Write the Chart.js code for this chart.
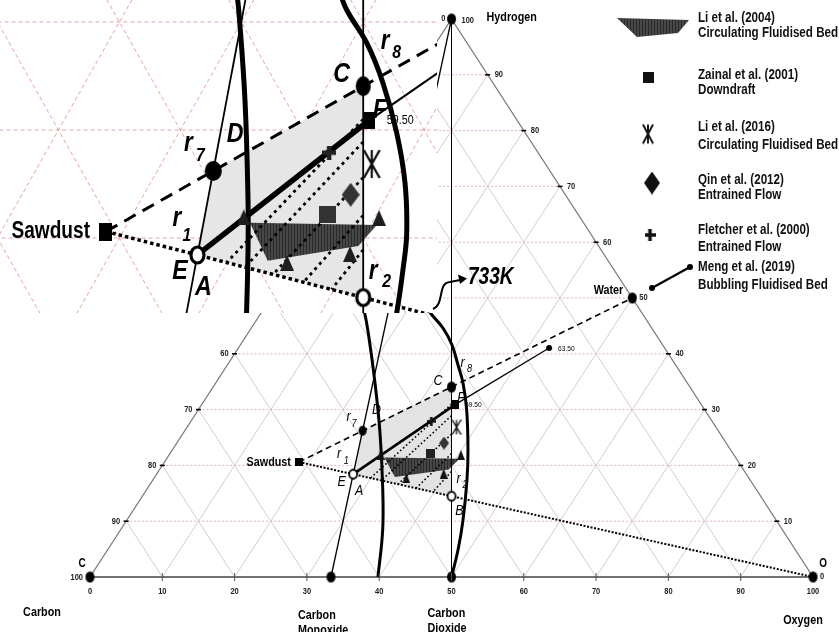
<!DOCTYPE html>
<html>
<head>
<meta charset="utf-8">
<script src="https://cdn.jsdelivr.net/npm/chart.js@4/dist/chart.umd.min.js"></script>
<style>
  html, body { margin: 0; padding: 0; background: #fff; overflow: hidden; }
  #wrap { position: relative; width: 839px; height: 632px; }
  #main, #zoom { position: absolute; left: 0; top: 0; }
</style>
</head>
<body>
<div id="wrap">
  <canvas id="main" width="839" height="632"></canvas>
  <canvas id="zoom" width="839" height="632"></canvas>
</div>
<script>
// Ternary plane: x = O + H/2, y = H  (C at 0,0 · O at 100,0 · H at 50,100)
const tickValues = [0, 10, 20, 30, 40, 50, 60, 70, 80, 90, 100];
const vertexC = [0, 0];
const vertexO = [100, 0];
const vertexH = [50, 100];
const carbonMonoxide = [33.33, 0];
const carbonDioxide = [50, 0];
const water = [75, 50];

const sawdust = [28.9, 20.6];
const pointE = [36.4, 18.43];
const pointR7 = [37.7, 26.21];
const pointC = [50, 34.06];
const pointF = [50.5, 30.9];
const pointR2 = [50, 14.49];
const mengEnd = [63.5, 41.04];
const fLabelValue = 59.5;

// carbon-boundary curves (overview)
const boundaryLeft = [[39.83, 0], [40.48, 8.42], [40.48, 16.18], [40.11, 25.81], [39.42, 34.77], [38.49, 43.73], [37.9, 47.85], [37.3, 50.5]];
const boundaryRight = [[50, 0], [50.9, 4.84], [51.59, 10.2], [52.14, 17.38], [52.28, 22.76], [52.1, 29.93], [51.59, 34.77], [50.9, 37.99], [50.07, 41.58], [48.82, 44.62], [47.3, 46.95], [46.3, 48.7]];
// carbon-boundary curves (enlarged view)
const boundaryLeftZoom = [[39.6, 43.0], [39.81, 40.83], [40.3, 32.78], [40.55, 23.52], [40.55, 18.89], [40.43, 13.06], [40.35, 12.0]];
const boundaryRightZoom = [[48.0, 43.0], [48.65, 41.11], [50.29, 38.06], [51.62, 34.35], [52.75, 29.72], [53.43, 25.09], [53.57, 20.46], [53.29, 17.31], [52.75, 13.06], [52.5, 12.0]];

// dotted operating lines inside the shaded band
const hatchTop = [[50, 31.0], [50, 28.9], [50, 25.6], [50, 22.1], [50, 18.9]];
const hatchBottom = [[38.8, 17.73], [40.3, 17.30], [42.6, 16.63], [45.1, 15.91], [47.4, 15.24]];

// literature data
const li2004Region = [[40.71, 21.42], [51.11, 21.2], [49.6, 19.26], [42.17, 17.9]];
const li2004Points = [[40.2, 21.9], [51.3, 21.85], [43.75, 17.69], [48.92, 18.52]];
const zainal2001 = [[47.1, 22.2]];
const li2016 = [[50.7, 26.85]];
const qin2012 = [[48.97, 24.0]];
const fletcher2000 = [[47.2, 27.9]];

const legendTitles = ['Li et al. (2004)', 'Zainal et al. (2001)', 'Li et al. (2016)', 'Qin et al. (2012)', 'Fletcher et al. (2000)', 'Meng et al. (2019)'];
const legendTypes = ['Circulating Fluidised Bed', 'Downdraft', 'Circulating Fluidised Bed', 'Entrained Flow', 'Entrained Flow', 'Bubbling Fluidised Bed'];

const FONT = "'Liberation Sans',Arial,sans-serif";
const NARROW = 0.83;   // horizontal condensing applied to all text

// ---------- marker images ----------
function marker(w, h, draw) {
  const c = document.createElement('canvas');
  c.width = Math.ceil(w); c.height = Math.ceil(h);
  draw(c.getContext('2d'), c.width, c.height);
  return c;
}
const dot = (w, h, fill) => marker(w + 2, h + 2, (g, W, H) => { g.fillStyle = fill || '#000'; g.beginPath(); g.ellipse(W / 2, H / 2, w / 2, h / 2, 0, 0, Math.PI * 2); g.fill(); });
const ring = (w, h, lw) => marker(w + lw + 2, h + lw + 2, (g, W, H) => { g.fillStyle = '#fff'; g.strokeStyle = '#000'; g.lineWidth = lw; g.beginPath(); g.ellipse(W / 2, H / 2, w / 2, h / 2, 0, 0, Math.PI * 2); g.fill(); g.stroke(); });
const box = (w, h, fill) => marker(w, h, (g, W, H) => { g.fillStyle = fill; g.fillRect(0, 0, W, H); });
const tri = (w, h, fill) => marker(w, h, (g, W, H) => { g.fillStyle = fill; g.beginPath(); g.moveTo(W / 2, 0); g.lineTo(W, H); g.lineTo(0, H); g.closePath(); g.fill(); });
const diamond = (w, h, fill) => marker(w, h, (g, W, H) => { g.fillStyle = fill; g.beginPath(); g.moveTo(W / 2, 0); g.lineTo(W, H / 2); g.lineTo(W / 2, H); g.lineTo(0, H / 2); g.closePath(); g.fill(); });
const plus = (w, h, lw, col) => marker(w, h, (g, W, H) => { g.fillStyle = col; g.fillRect((W - lw) / 2, 0, lw, H); g.fillRect(0, (H - lw) / 2, W, lw); });
const zhe = (w, h, lw, col) => marker(w + lw, h + lw, (g, W, H) => {
  g.strokeStyle = col; g.lineWidth = lw; g.beginPath();
  g.moveTo(W / 2, lw / 2); g.lineTo(W / 2, H - lw / 2);
  g.moveTo(lw / 2, lw / 2); g.lineTo(W - lw / 2, H - lw / 2);
  g.moveTo(W - lw / 2, lw / 2); g.lineTo(lw / 2, H - lw / 2);
  g.stroke();
});

const hatchTile = marker(3, 3, (g) => { g.fillStyle = '#474747'; g.fillRect(0, 0, 3, 3); g.fillStyle = '#2a2a2a'; g.fillRect(0, 0, 1, 3); });
const liPattern = document.createElement('canvas').getContext('2d').createPattern(hatchTile, 'repeat');

const pts = arr => arr.map(([x, y]) => ({ x, y }));

// ---------- dataset builder shared by both views ----------
function buildDatasets(k) {
  const ds = [];
  const L = (data, o) => ds.push(Object.assign({ data: pts(data), showLine: true, pointRadius: 0, borderColor: '#000', backgroundColor: 'rgba(0,0,0,0)', fill: false, tension: 0, borderWidth: 1 }, o));
  const M = (data, style, order) => ds.push({ data: pts(data), showLine: false, pointStyle: style, pointRadius: 6, order });

  L([pointR7, pointC, pointR2, pointE, pointR7], { fill: 'shape', backgroundColor: k.shade, borderColor: 'rgba(0,0,0,0)', borderWidth: 0, order: 30 });
  L([...li2004Region, li2004Region[0]], { fill: 'shape', backgroundColor: liPattern, borderColor: 'rgba(0,0,0,0)', borderWidth: 0, order: 24 });
  hatchTop.forEach((t, i) => L([t, hatchBottom[i]], { borderWidth: k.hatchW, borderDash: k.hatchDash, order: 23 }));
  L([sawdust, vertexO], { borderWidth: k.dotW, borderDash: k.dotDash, order: 22 });
  L([sawdust, water], { borderWidth: k.dashW, borderDash: k.dash, order: 22 });
  L([carbonMonoxide, vertexH], { borderWidth: k.thinW, order: 21 });
  L([carbonDioxide, vertexH], { borderWidth: k.vertW, order: 21 });
  L(k.left, { borderWidth: k.thickW, tension: 0.4, order: 20 });
  L(k.right, { borderWidth: k.thickW, tension: 0.4, order: 20 });
  L([pointE, pointF], { borderWidth: k.mengW, order: 19 });
  L([pointF, mengEnd], { borderWidth: k.mengTailW, order: 19 });

  M(li2004Points, k.m.tri, 12);
  M(zainal2001, k.m.square, 11);
  M(qin2012, k.m.diamond, 11);
  M(li2016, k.m.zhe, 11);
  M(fletcher2000, k.m.plus, 11);
  M([sawdust], k.m.sawdust, 5);
  M([pointR7], k.m.r7, 5);
  M([pointC], k.m.c, 5);
  M([pointF], k.m.f, 5);
  M([pointE, pointR2], k.m.ring, 4);
  return ds;
}

const mainStyle = {
  shade: '#e3e3e3', hatchW: 1.6, hatchDash: [1.6, 2.4], dotW: 2, dotDash: [2, 1.6], dashW: 1.6, dash: [6, 4],
  thinW: 1.3, vertW: 1, thickW: 3, mengW: 2.6, mengTailW: 1.3,
  left: boundaryLeft, right: boundaryRight,
  m: { tri: tri(8, 10, '#111'), square: box(9, 9, '#222'), diamond: diamond(10, 13, '#333'), zhe: zhe(8, 14, 1.3, '#111'),
       plus: plus(9, 9, 2.6, '#111'), sawdust: box(8, 8, '#000'), r7: dot(8, 10), c: dot(9, 11), f: box(7, 9, '#000'), ring: ring(8, 9, 1.8) }
};
const zoomStyle = {
  shade: '#e6e6e6', hatchW: 2.8, hatchDash: [3, 4], dotW: 3.5, dotDash: [3.5, 3], dashW: 3, dash: [13, 8],
  thinW: 1.8, vertW: 1.8, thickW: 5, mengW: 5.5, mengTailW: 2.2,
  left: boundaryLeftZoom, right: boundaryRightZoom,
  m: { tri: tri(14, 16, '#1e1e1e'), square: box(17, 17, '#333'), diamond: diamond(18, 24, '#333'), zhe: zhe(15, 27, 2.2, '#111'),
       plus: plus(14, 14, 4.5, '#222'), sawdust: box(13, 18, '#000'), r7: dot(17, 20), c: dot(15, 20), f: box(12, 17, '#000'), ring: ring(13, 16, 3.2) }
};

// ---------- drawing helpers ----------
const P = (chart, p) => [chart.scales.x.getPixelForValue(p[0]), chart.scales.y.getPixelForValue(p[1])];
function seg(ctx, chart, a, b) {
  const A = P(chart, a), B = P(chart, b);
  ctx.beginPath(); ctx.moveTo(A[0], A[1]); ctx.lineTo(B[0], B[1]); ctx.stroke();
}
function txt(ctx, s, x, y, font, align, color) {
  ctx.save();
  ctx.font = font; ctx.textAlign = align || 'center'; ctx.textBaseline = 'middle';
  ctx.fillStyle = color || '#000';
  ctx.translate(x, y); ctx.scale(NARROW, 1);
  ctx.fillText(s, 0, 0);
  ctx.restore();
}
function ternaryGrid(ctx, chart, h, d) {
  for (let v = 10; v < 100; v += 10) {
    ctx.strokeStyle = h.color; ctx.lineWidth = h.width; ctx.setLineDash(h.dash);
    seg(ctx, chart, [v / 2, v], [100 - v / 2, v]);
    ctx.strokeStyle = d.color; ctx.lineWidth = d.width; ctx.setLineDash(d.dash);
    seg(ctx, chart, [v, 0], [v + (100 - v) / 2, 100 - v]);
    seg(ctx, chart, [v, 0], [v / 2, v]);
  }
  ctx.setLineDash([]);
}
// letter with optional subscript
function tag(ctx, at, s, dx, dy, font, sub, sdx, sdy, subFont) {
  txt(ctx, s, at[0] + dx, at[1] + dy, font);
  if (sub) txt(ctx, sub, at[0] + sdx, at[1] + sdy, subFont);
}

// ---------- overview chart ----------
const mainPlugin = {
  id: 'ternaryMain',
  beforeDatasetsDraw(chart) {
    const ctx = chart.ctx;
    ctx.save();
    ternaryGrid(ctx, chart, { color: 'rgba(222,150,160,0.75)', width: 1, dash: [2, 2] }, { color: 'rgba(214,196,200,0.9)', width: 1, dash: [] });
    ctx.strokeStyle = '#777'; ctx.lineWidth = 1.3;
    seg(ctx, chart, vertexC, vertexH); seg(ctx, chart, vertexH, vertexO);
    ctx.strokeStyle = '#444'; ctx.lineWidth = 1.6;
    seg(ctx, chart, vertexC, vertexO);
    ctx.restore();
  },
  afterDatasetsDraw(chart) {
    const ctx = chart.ctx;
    ctx.save();
    // vertex and species dots
    const big = dot(9, 11);
    [vertexC, vertexO, vertexH, carbonMonoxide, carbonDioxide, water].forEach(p => {
      const [x, y] = P(chart, p); ctx.drawImage(big, x - big.width / 2, y - big.height / 2);
    });
    const small = dot(6, 6);
    const [mx, my] = P(chart, mengEnd); ctx.drawImage(small, mx - small.width / 2, my - small.height / 2);

    // axis ticks and labels
    const tf = `bold 9px ${FONT}`;
    tickValues.forEach(v => {
      const [bx, by] = P(chart, [v, 0]);
      ctx.strokeStyle = '#555'; ctx.lineWidth = 1;
      if (v > 0 && v < 100) { ctx.beginPath(); ctx.moveTo(bx, by - 4); ctx.lineTo(bx, by + 4); ctx.stroke(); }
      txt(ctx, String(v), bx, by + 15, tf, 'center', '#222');
      const [lx, ly] = P(chart, [v / 2, v]);
      const [rx, ry] = P(chart, [100 - v / 2, v]);
      ctx.strokeStyle = '#000'; ctx.lineWidth = 1.6;
      if (v > 0 && v < 100) {
        ctx.beginPath(); ctx.moveTo(lx - 2.5, ly); ctx.lineTo(lx + 2.5, ly); ctx.stroke();
        ctx.beginPath(); ctx.moveTo(rx - 2.5, ry); ctx.lineTo(rx + 2.5, ry); ctx.stroke();
      }
      txt(ctx, String(100 - v), lx - (v === 0 ? 7 : 6), ly + (v === 0 ? 1 : 0), tf, 'right', '#222');
      txt(ctx, String(v), rx + (v === 100 ? 10 : 7), ry + (v === 100 ? 2 : 0), tf, 'left', '#222');
    });

    // species names
    const bf = `bold 13px ${FONT}`;
    const [cx, cy] = P(chart, vertexC), [ox, oy] = P(chart, vertexO), [hx, hy] = P(chart, vertexH);
    txt(ctx, 'C', cx - 8, cy - 13, `bold 12px ${FONT}`);
    txt(ctx, 'O', ox + 10, oy - 13, `bold 12px ${FONT}`);
    txt(ctx, 'Hydrogen', hx + 35, hy - 2, bf, 'left');
    const [wx, wy] = P(chart, water);
    txt(ctx, 'Water', wx - 9, wy - 8, bf, 'right');
    txt(ctx, 'Carbon', cx - 48, cy + 35, bf, 'center');
    txt(ctx, 'Oxygen', ox - 10, oy + 43, bf, 'center');
    const [mox, moy] = P(chart, carbonMonoxide);
    txt(ctx, 'Carbon', mox - 33, moy + 38, bf, 'left');
    txt(ctx, 'Monoxide', mox - 33, moy + 53, bf, 'left');
    const [dox, doy] = P(chart, carbonDioxide);
    txt(ctx, 'Carbon', dox - 24, doy + 36, bf, 'left');
    txt(ctx, 'Dioxide', dox - 24, doy + 51, bf, 'left');

    // point annotations
    const sf = `bold 13px ${FONT}`;
    const s = P(chart, sawdust);
    txt(ctx, 'Sawdust', s[0] - 8, s[1], sf, 'right');
    txt(ctx, mengEnd[0].toFixed(2), mx + 9, my + 1, `8px ${FONT}`, 'left');
    const f = P(chart, pointF);
    const it = `italic 15px ${FONT}`, is = `italic 11px ${FONT}`;
    txt(ctx, fLabelValue.toFixed(2), f[0] + 10, f[1], `8px ${FONT}`, 'left');
    tag(ctx, f, 'F', 6, -6.5, it);
    const e = P(chart, pointE);
    tag(ctx, e, 'E', -11.5, 8, it);
    tag(ctx, e, 'A', 6, 17, it);
    tag(ctx, e, 'r', -14, -20.5, it, '1', -7, -13, is);
    const r7 = P(chart, pointR7);
    tag(ctx, r7, 'r', -14, -14, it, '7', -8.5, -7, is);
    tag(ctx, r7, 'D', 14, -21, it);
    const c = P(chart, pointC);
    tag(ctx, c, 'C', -13.5, -6, it);
    tag(ctx, c, 'r', 11, -24, it, '8', 18, -18, is);
    const r2 = P(chart, pointR2);
    tag(ctx, r2, 'r', 7, -17, it, '2', 13.5, -11, is);
    tag(ctx, r2, 'B', 8, 14.5, it);
    ctx.restore();
  },
  afterDraw(chart) {
    // legend
    const ctx = chart.ctx;
    ctx.save();
    const lf = `bold 14px ${FONT}`;
    const y1 = [18, 75, 127, 180, 230, 267];
    const y2 = [33, 90, 145, 195, 247, 285];
    legendTitles.forEach((t, i) => {
      txt(ctx, t, 698, y1[i], lf, 'left', '#111');
      txt(ctx, legendTypes[i], 698, y2[i], lf, 'left', '#111');
    });
    ctx.fillStyle = liPattern;
    ctx.beginPath(); ctx.moveTo(617, 18); ctx.lineTo(689, 20); ctx.lineTo(678, 33); ctx.lineTo(637, 37); ctx.closePath(); ctx.fill();
    const icons = [[box(11, 11, '#111'), 648, 77], [zhe(10, 19, 1.9, '#111'), 648, 134], [diamond(16, 23, '#111'), 652, 183], [plus(11, 12, 3.5, '#111'), 650, 235]];
    icons.forEach(([img, x, y]) => ctx.drawImage(img, x - img.width / 2, y - img.height / 2));
    ctx.strokeStyle = '#000'; ctx.lineWidth = 2.2;
    ctx.beginPath(); ctx.moveTo(652, 288); ctx.lineTo(690, 267); ctx.stroke();
    const d = dot(6, 6);
    ctx.drawImage(d, 652 - 4, 288 - 4); ctx.drawImage(d, 690 - 4, 267 - 4);
    ctx.restore();
  }
};

new Chart(document.getElementById('main'), {
  type: 'scatter',
  data: { datasets: buildDatasets(mainStyle) },
  options: {
    responsive: false, animation: false, events: [],
    layout: { padding: 0, autoPadding: false },
    plugins: { legend: { display: false }, tooltip: { enabled: false } },
    scales: {
      x: { type: 'linear', min: -12.448, max: 103.596, display: false },
      y: { type: 'linear', min: -9.857, max: 103.405, display: false }
    }
  },
  plugins: [mainPlugin]
});

// ---------- enlarged view of the shaded region ----------
const zoomPlugin = {
  id: 'ternaryZoom',
  beforeDraw(chart) {
    const { ctx, chartArea: a } = chart;
    ctx.save(); ctx.fillStyle = '#fff'; ctx.fillRect(a.left, a.top, a.right - a.left, a.bottom - a.top); ctx.restore();
  },
  beforeDatasetsDraw(chart) {
    const { ctx, chartArea: a } = chart;
    ctx.save();
    ctx.beginPath(); ctx.rect(a.left, a.top, a.right - a.left, a.bottom - a.top); ctx.clip();
    const pink = { color: 'rgba(222,140,150,0.8)', width: 1, dash: [4, 3] };
    ternaryGrid(ctx, chart, pink, pink);
    ctx.restore();
  },
  afterDatasetsDraw(chart) {
    const ctx = chart.ctx;
    ctx.save();
    const it = `italic bold 28px ${FONT}`, ir = `italic bold 27px ${FONT}`, is = `italic bold 19px ${FONT}`;
    const s = P(chart, sawdust);
    txt(ctx, 'Sawdust', s[0] - 16, s[1], `bold 23px ${FONT}`, 'right');
    const f = P(chart, pointF);
    txt(ctx, fLabelValue.toFixed(2), f[0] + 17.5, f[1] + 0.5, `13px ${FONT}`, 'left');
    tag(ctx, f, 'F', 10.5, -10, it);
    const e = P(chart, pointE);
    tag(ctx, e, 'E', -17.5, 16, it);
    tag(ctx, e, 'A', 6, 32.5, it);
    tag(ctx, e, 'r', -20.5, -36, ir, '1', -10.5, -19, is);
    const r7 = P(chart, pointR7);
    tag(ctx, r7, 'r', -25, -27, ir, '7', -13, -15, is);
    tag(ctx, r7, 'D', 22, -37, it);
    const c = P(chart, pointC);
    tag(ctx, c, 'C', -21.5, -12, it);
    tag(ctx, c, 'r', 22, -45, ir, '8', 33.5, -33.5, is);
    const r2 = P(chart, pointR2);
    tag(ctx, r2, 'r', 10, -26, ir, '2', 23.5, -16, is);

    // temperature callout for the boundary curve
    const a = chart.chartArea;
    const x0 = a.right, y0 = a.bottom;
    ctx.strokeStyle = '#000'; ctx.lineWidth = 2; ctx.setLineDash([]);
    ctx.beginPath();
    ctx.moveTo(x0 - 4, y0 - 4);
    ctx.bezierCurveTo(x0 + 8, y0 - 9, x0, y0 - 30, x0 + 13, y0 - 31);
    ctx.lineTo(x0 + 23, y0 - 33);
    ctx.stroke();
    ctx.fillStyle = '#000';
    ctx.beginPath(); ctx.moveTo(x0 + 30, y0 - 34.5); ctx.lineTo(x0 + 21, y0 - 38.5); ctx.lineTo(x0 + 23, y0 - 29); ctx.closePath(); ctx.fill();
    txt(ctx, '733K', x0 + 31, y0 - 35, `italic bold 23px ${FONT}`, 'left');
    ctx.restore();
  }
};

new Chart(document.getElementById('zoom'), {
  type: 'scatter',
  data: { datasets: buildDatasets(zoomStyle) },
  options: {
    responsive: false, animation: false, events: [],
    layout: { padding: { left: 0, top: 0, right: 402, bottom: 319 }, autoPadding: false },
    plugins: { legend: { display: false }, tooltip: { enabled: false } },
    scales: {
      x: { type: 'linear', min: 20.205, max: 56.054, display: false },
      y: { type: 'linear', min: 13.056, max: 42.037, display: false }
    }
  },
  plugins: [zoomPlugin]
});
</script>
</body>
</html>
